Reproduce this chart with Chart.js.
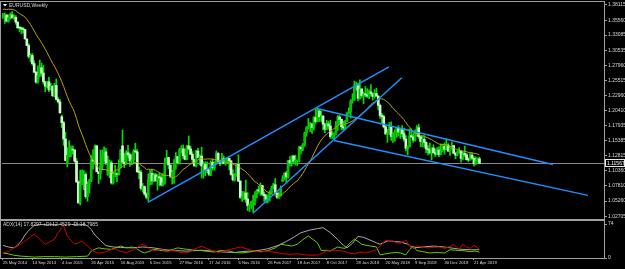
<!DOCTYPE html>
<html>
<head>
<meta charset="utf-8">
<script src="https://cdn.jsdelivr.net/npm/chart.js@4.4.1/dist/chart.umd.min.js"></script>
<style>
  html, body { margin: 0; padding: 0; background: #000; }
  #wrap { position: relative; width: 625px; height: 269px; background: #000; overflow: hidden; }
  #main { position: absolute; left: 0; top: 0; }
  #sub { position: absolute; left: 0; top: 221px; }
</style>
</head>
<body>
<div id="wrap">
  <canvas id="main" width="625" height="221"></canvas>
  <canvas id="sub" width="625" height="48"></canvas>
</div>
<script>
// EURUSD weekly bars, week of 25 May 2014 .. week of 12 May 2019
var opens = [
  1.3630,1.3635,1.3642,1.3543,1.3603,1.3645,1.3595,1.3605,1.3525,1.3430,
  1.3425,1.3410,1.3400,1.3240,1.3132,1.2950,1.2965,1.2830,1.2685,1.2520,
  1.2630,1.2760,1.2670,1.2525,1.2450,1.2525,1.2390,1.2450,1.2290,1.2465,
  1.2230,1.2190,1.1940,1.1840,1.1565,1.1160,1.1290,1.1315,1.1390,1.1380,
  1.1195,1.0845,1.0495,1.0820,1.0890,1.0970,1.0600,1.0810,1.0870,1.1200,
  1.1195,1.1450,1.1015,1.0985,1.1110,1.1265,1.1350,1.0970,1.1110,1.1165,
  1.0830,1.0980,1.0985,1.0970,1.1105,1.1450,1.1180,1.1150,1.1335,1.1300,
  1.1200,1.1215,1.1360,1.1350,1.1015,1.1005,1.0740,1.0770,1.0645,1.0590,
  1.0885,1.0990,1.0865,1.0965,1.0865,1.0930,1.0915,1.0795,1.0830,1.1160,
  1.1255,1.1130,1.0935,1.1005,1.1150,1.1270,1.1165,1.1390,1.1400,1.1285,
  1.1225,1.1450,1.1400,1.1310,1.1225,1.1115,1.1365,1.1255,1.1280,1.1115,
  1.1140,1.1050,1.1045,1.0975,1.1175,1.1085,1.1160,1.1325,1.1195,1.1155,
  1.1235,1.1155,1.1225,1.1240,1.1200,1.0970,1.0885,1.0985,1.1140,1.0860,
  1.0585,1.0590,1.0660,1.0560,1.0450,1.0455,1.0520,1.0530,1.0645,1.0700,
  1.0695,1.0785,1.0640,1.0615,1.0560,1.0625,1.0670,1.0740,1.0800,1.0655,
  1.0590,1.0615,1.0860,1.0895,1.0995,1.0930,1.1205,1.1165,1.1280,1.1195,
  1.1195,1.1195,1.1425,1.1400,1.1470,1.1665,1.1755,1.1775,1.1820,1.1760,
  1.1925,1.1860,1.2035,1.1940,1.1950,1.1815,1.1730,1.1820,1.1785,1.1605,
  1.1610,1.1665,1.1795,1.1935,1.1895,1.1770,1.1750,1.1865,1.2005,1.2030,
  1.2200,1.2220,1.2425,1.2460,1.2250,1.2405,1.2295,1.2315,1.2305,1.2285,
  1.2355,1.2325,1.2280,1.2330,1.2285,1.2130,1.1960,1.1940,1.1770,1.1650,
  1.1660,1.1770,1.1610,1.1655,1.1685,1.1745,1.1685,1.1720,1.1655,1.1565,
  1.1410,1.1440,1.1620,1.1600,1.1550,1.1625,1.1755,1.1605,1.1525,1.1560,
  1.1510,1.1400,1.1385,1.1335,1.1415,1.1335,1.1315,1.1380,1.1305,1.1370,
  1.1440,1.1395,1.1465,1.1365,1.1410,1.1455,1.1325,1.1295,1.1335,1.1365,
  1.1240,1.1325,1.1300,1.1220,1.1215,1.1295,1.1245,1.1150,1.1200,1.1235
];
var highs = [
  1.3670,1.3677,1.3651,1.3647,1.3677,1.3700,1.3648,1.3634,1.3530,1.3445,
  1.3444,1.3434,1.3405,1.3245,1.3160,1.2995,1.3000,1.2875,1.2700,1.2790,
  1.2887,1.2840,1.2800,1.2530,1.2520,1.2600,1.2500,1.2460,1.2500,1.2570,
  1.2260,1.2225,1.1970,1.1860,1.1680,1.1420,1.1535,1.1450,1.1450,1.1390,
  1.1240,1.0870,1.1043,1.1050,1.1035,1.1000,1.0850,1.0890,1.1290,1.1390,
  1.1467,1.1460,1.1020,1.1380,1.1385,1.1436,1.1410,1.1280,1.1215,1.1200,
  1.1010,1.1128,1.1000,1.1215,1.1390,1.1714,1.1330,1.1370,1.1460,1.1330,
  1.1315,1.1390,1.1495,1.1395,1.1095,1.1040,1.0820,1.0780,1.0665,1.0980,
  1.1040,1.1060,1.0990,1.0990,1.0970,1.0990,1.0970,1.0985,1.1245,1.1376,
  1.1260,1.1135,1.1040,1.1220,1.1340,1.1275,1.1410,1.1455,1.1465,1.1400,
  1.1460,1.1616,1.1445,1.1355,1.1230,1.1375,1.1415,1.1300,1.1427,1.1185,
  1.1185,1.1185,1.1060,1.1200,1.1235,1.1185,1.1366,1.1340,1.1210,1.1325,
  1.1285,1.1250,1.1260,1.1245,1.1205,1.1055,1.0990,1.1145,1.1300,1.0870,
  1.0690,1.0685,1.0875,1.0670,1.0480,1.0525,1.0620,1.0685,1.0720,1.0775,
  1.0830,1.0790,1.0680,1.0640,1.0630,1.0700,1.0775,1.0825,1.0905,1.0680,
  1.0680,1.0780,1.0950,1.1000,1.1025,1.1210,1.1270,1.1285,1.1295,1.1295,
  1.1215,1.1445,1.1450,1.1490,1.1680,1.1775,1.1910,1.1845,1.1825,1.1940,
  1.2070,1.2092,1.2060,1.2035,1.1960,1.1830,1.1880,1.1860,1.1880,1.1690,
  1.1670,1.1860,1.1960,1.1960,1.1905,1.1865,1.1880,1.2010,1.2090,1.2225,
  1.2325,1.2537,1.2520,1.2505,1.2556,1.2410,1.2355,1.2445,1.2410,1.2390,
  1.2476,1.2340,1.2395,1.2415,1.2290,1.2150,1.1995,1.1965,1.1790,1.1725,
  1.1840,1.1852,1.1670,1.1720,1.1750,1.1790,1.1745,1.1790,1.1750,1.1625,
  1.1450,1.1735,1.1735,1.1670,1.1720,1.1790,1.1815,1.1610,1.1610,1.1620,
  1.1520,1.1455,1.1500,1.1420,1.1470,1.1400,1.1420,1.1440,1.1485,1.1470,
  1.1500,1.1570,1.1490,1.1420,1.1515,1.1460,1.1345,1.1370,1.1420,1.1370,
  1.1345,1.1448,1.1325,1.1255,1.1325,1.1325,1.1265,1.1265,1.1250,1.1265
];
var lows = [
  1.3585,1.3503,1.3525,1.3524,1.3575,1.3590,1.3572,1.3490,1.3420,1.3367,
  1.3333,1.3340,1.3235,1.3130,1.2920,1.2860,1.2800,1.2680,1.2500,1.2500,
  1.2610,1.2615,1.2485,1.2358,1.2420,1.2360,1.2385,1.2280,1.2270,1.2220,
  1.2165,1.1995,1.1755,1.1460,1.1200,1.1098,1.1260,1.1270,1.1310,1.1175,
  1.0840,1.0490,1.0462,1.0800,1.0715,1.0570,1.0520,1.0660,1.0850,1.1060,
  1.1140,1.1050,1.0819,1.0890,1.1050,1.1190,1.1130,1.0955,1.0915,1.0810,
  1.0808,1.0930,1.0850,1.0960,1.1080,1.1160,1.1085,1.1145,1.1255,1.1105,
  1.1140,1.1165,1.1330,1.1010,1.0895,1.0710,1.0675,1.0620,1.0560,1.0524,
  1.0795,1.0805,1.0850,1.0855,1.0710,1.0780,1.0780,1.0775,1.0810,1.1150,
  1.1065,1.0915,1.0810,1.0822,1.1060,1.1145,1.1145,1.1330,1.1235,1.1215,
  1.1215,1.1380,1.1305,1.1170,1.1110,1.1100,1.1250,1.1130,1.0912,1.0910,
  1.0950,1.1000,1.0950,1.0950,1.1045,1.1045,1.1145,1.1185,1.1120,1.1150,
  1.1150,1.1125,1.1160,1.1050,1.0960,1.0860,1.0860,1.0940,1.0850,1.0570,
  1.0518,1.0550,1.0505,1.0366,1.0350,1.0400,1.0340,1.0455,1.0575,1.0660,
  1.0620,1.0620,1.0520,1.0495,1.0495,1.0525,1.0640,1.0730,1.0650,1.0570,
  1.0570,1.0605,1.0850,1.0875,1.0840,1.0910,1.1110,1.1110,1.1170,1.1130,
  1.1120,1.1180,1.1315,1.1370,1.1440,1.1610,1.1730,1.1690,1.1660,1.1720,
  1.1825,1.1855,1.1860,1.1860,1.1720,1.1670,1.1725,1.1730,1.1575,1.1575,
  1.1554,1.1640,1.1710,1.1810,1.1720,1.1715,1.1720,1.1855,1.1980,1.1915,
  1.2165,1.2215,1.2385,1.2205,1.2235,1.2260,1.2155,1.2275,1.2260,1.2240,
  1.2285,1.2215,1.2250,1.2280,1.2055,1.1910,1.1825,1.1750,1.1645,1.1510,
  1.1640,1.1540,1.1510,1.1530,1.1590,1.1615,1.1575,1.1600,1.1530,1.1365,
  1.1301,1.1430,1.1590,1.1510,1.1530,1.1615,1.1575,1.1435,1.1435,1.1430,
  1.1335,1.1300,1.1315,1.1216,1.1330,1.1270,1.1305,1.1270,1.1300,1.1355,
  1.1310,1.1385,1.1355,1.1290,1.1395,1.1320,1.1234,1.1285,1.1330,1.1176,
  1.1220,1.1270,1.1210,1.1185,1.1210,1.1225,1.1110,1.1135,1.1175,1.1150
];
var closes = [
  1.3635,1.3642,1.3543,1.3603,1.3645,1.3595,1.3605,1.3525,1.3430,1.3425,
  1.3410,1.3400,1.3245,1.3132,1.2950,1.2965,1.2830,1.2685,1.2520,1.2630,
  1.2760,1.2670,1.2525,1.2450,1.2525,1.2390,1.2450,1.2290,1.2465,1.2230,
  1.2190,1.2005,1.1840,1.1565,1.1205,1.1290,1.1315,1.1390,1.1380,1.1195,
  1.0845,1.0495,1.0820,1.0890,1.0970,1.0600,1.0810,1.0870,1.1200,1.1195,
  1.1450,1.1015,1.0985,1.1110,1.1265,1.1350,1.1165,1.1110,1.1165,1.0830,
  1.0980,1.0985,1.0970,1.1105,1.1385,1.1180,1.1150,1.1335,1.1300,1.1200,
  1.1215,1.1360,1.1350,1.1015,1.1005,1.0740,1.0770,1.0645,1.0590,1.0885,
  1.0990,1.0865,1.0965,1.0865,1.0930,1.0915,1.0795,1.0830,1.1160,1.1255,
  1.1130,1.0935,1.1005,1.1150,1.1270,1.1165,1.1390,1.1400,1.1285,1.1225,
  1.1450,1.1400,1.1310,1.1225,1.1115,1.1365,1.1255,1.1280,1.1115,1.1140,
  1.1050,1.1045,1.0975,1.1175,1.1085,1.1160,1.1325,1.1195,1.1155,1.1235,
  1.1155,1.1225,1.1240,1.1200,1.0970,1.0885,1.0985,1.1140,1.0860,1.0585,
  1.0590,1.0660,1.0560,1.0450,1.0455,1.0520,1.0530,1.0645,1.0700,1.0695,
  1.0785,1.0640,1.0615,1.0560,1.0625,1.0670,1.0740,1.0800,1.0655,1.0590,
  1.0615,1.0725,1.0895,1.0995,1.0930,1.1205,1.1165,1.1280,1.1195,1.1195,
  1.1195,1.1425,1.1400,1.1470,1.1665,1.1755,1.1775,1.1820,1.1760,1.1925,
  1.1860,1.2035,1.1940,1.1950,1.1815,1.1730,1.1820,1.1785,1.1605,1.1610,
  1.1665,1.1795,1.1935,1.1895,1.1770,1.1750,1.1865,1.2005,1.2030,1.2200,
  1.2220,1.2425,1.2460,1.2250,1.2405,1.2295,1.2315,1.2305,1.2285,1.2355,
  1.2325,1.2280,1.2330,1.2285,1.2130,1.1960,1.1940,1.1770,1.1650,1.1660,
  1.1770,1.1610,1.1655,1.1685,1.1745,1.1685,1.1720,1.1655,1.1565,1.1410,
  1.1440,1.1620,1.1600,1.1550,1.1625,1.1755,1.1605,1.1525,1.1560,1.1510,
  1.1400,1.1385,1.1335,1.1415,1.1335,1.1315,1.1380,1.1305,1.1370,1.1440,
  1.1395,1.1465,1.1365,1.1410,1.1455,1.1325,1.1295,1.1335,1.1365,1.1240,
  1.1325,1.1300,1.1220,1.1215,1.1295,1.1245,1.1150,1.1200,1.1235,1.11567
];
// closes of the weeks before the first visible bar (moving average warm-up)
var earlierCloses = [
  1.3590,1.3540,1.3690,1.3485,1.3630,1.3690,1.3740,1.3800,1.3910,1.3910,
  1.3780,1.3750,1.3700,1.3885,1.3810,1.3830,1.3870,1.3755,1.3695,1.3630
];
var MA_PERIOD = 20;

// trend lines: bar index and price at each end
var trendStartBars = [78.8, 135.9, 171.2, 179.9];
var trendStartPrices = [1.0504, 1.0321, 1.2074, 1.1540];
var trendEndBars = [209.8, 216.8, 298.9, 318.0];
var trendEndPrices = [1.2776, 1.2592, 1.1139, 1.0621];

var priceTickLabels = ["1.38115", "1.35560", "1.33085", "1.30535", "1.27960", "1.25515", "1.22960",
  "1.20410", "1.17935", "1.15385", "1.12815", "1.10360", "1.07810", "1.05260", "1.02705"];
var lastPriceLabel = "1.11567";

var dateTickBars = [0, 16, 32, 48, 64, 80, 96, 112, 128, 144, 160, 176, 192, 208, 224, 240, 256];
var dateLabels = ["25 May 2014", "14 Sep 2014", "4 Jan 2015", "26 Apr 2015", "16 Aug 2015", "6 Dec 2015",
  "27 Mar 2016", "17 Jul 2016", "6 Nov 2016", "26 Feb 2017", "18 Jun 2017", "8 Oct 2017",
  "28 Jan 2018", "20 May 2018", "9 Sep 2018", "30 Dec 2018", "21 Apr 2019"];

// ADX(14) panel
var adxBars = [0,3,6,8,10,12,14,17,20,24,28,32,36,40,44,46,48,50,53,56,60,64,70,76,82,88,94,100,108,114,
  120,126,130,134,138,144,150,154,158,162,167,171,174,178,182,185,187,190,193,196,199,203,205,209,213,
  216,220,223,228,234,240,245,249,254,259];
var adxValues = [27.5,24,22,28,37,50,60,71,73,72,73,74,74,72,73,70,62,50,38,27,24,23,22,24,22,18,16,15,17,15,
  13,12,14,15,16,20,28,36,45,55,61,64,66,55,40,28,22,32,47,45,40,33,30,37,36,
  35,30,22,24,26,24,21,19,18,17.8];
var minusDiBars = [0,3,6,9,12,15,17,19,21,23,25,28,30,32,33,35,37,39,41,43,45,46,49,52,55,58,61,64,67,70,
  73,75,78,80,83,86,89,92,95,98,101,104,108,111,114,117,120,123,126,129,131,134,137,140,144,148,152,156,
  160,164,168,172,176,180,185,188,191,194,197,200,203,206,208,210,212,214,216,219,222,225,228,231,234,
  237,240,243,245,247,248,250,252,254,256,258,259];
var minusDiValues = [11,14,22,28,37,46,52,45,37,30,34,41,55,66,70,48,38,30,33,37,30,26,15,11,12,17,20,14,12,16,
  22,30,27,18,16,19,13,17,14,11,12,19,26,20,16,12,15,18,21,24,22,18,15,13,15,12,9,8,
  9,7,6,7,15,17,15,11,9,13,11,14,18,30,39,36,37,33,32,39,21,26,24,22,23,
  24,21,25,30,22,19,30,24,21,28,22,18.8];
var plusDiBars = [0,3,6,10,14,17,22,28,34,40,46,48,50,52,55,59,62,64,67,70,72,75,77,80,82,85,89,92,95,98,
  100,104,108,112,115,118,122,126,130,134,137,141,144,148,151,154,157,160,163,166,168,171,173,176,178,
  180,182,184,186,188,191,193,195,198,200,203,205,208,211,214,216,219,221,223,225,228,232,236,240,243,
  246,250,254,257,259];
var plusDiValues = [11,9,6,4,3,2,3,3,2,3,4,15,19,22,20,19,23,26,22,24,22,14,11,15,19,17,15,18,22,20,
  19,17,16,14,13,16,16,12,11,13,15,14,16,22,30,28,26,30,40,48,42,33,16,17,15,
  20,24,22,21,30,41,36,30,27,26,24,7,9,11,12,11,7,18,26,16,14,11,12,11,18,
  17,16,14,15,12.5];
var adxText = "ADX(14) 17.8297 +DI:12.4529 -DI:18.7985";

var X_MIN = -0.5, X_MAX = 326.7;
var Y_MIN = 1.02419, Y_MAX = 1.38449;
var FRAME = "#a0a0a0";
var TEXT = "#d8d8d8";
var tinyFont = { family: "Liberation Sans", size: 5, lineHeight: 0.8 };
var dateFont = { family: "Liberation Sans", size: 4.2, lineHeight: 0.8 };

function xy(xs, ys) {
  return xs.map(function (x, i) { return { x: x, y: ys[i] }; });
}

var allCloses = earlierCloses.concat(closes);
var maPoints = closes.map(function (c, i) {
  var end = i + earlierCloses.length, sum = 0;
  for (var k = end - MA_PERIOD + 1; k <= end; k++) sum += allCloses[k];
  return { x: i, y: sum / MA_PERIOD };
});

var wickData = lows.map(function (l, i) { return { x: i, y: [l, highs[i]] }; });
var bodyData = opens.map(function (o, i) { return { x: i, y: [o, closes[i]] }; });
var bodyColors = opens.map(function (o, i) { return closes[i] >= o ? "#00c400" : "#c8ffc8"; });

var trendSets = trendStartBars.map(function (b, i) {
  return {
    type: "line",
    data: [{ x: b, y: trendStartPrices[i] }, { x: trendEndBars[i], y: trendEndPrices[i] }],
    borderColor: "#1e90ff",
    borderWidth: 1.5,
    pointRadius: 0
  };
});

var mainDecor = {
  id: "mainDecor",
  beforeDatasetsDraw: function (chart) {
    var ctx = chart.ctx, a = chart.chartArea;
    var y = Math.round(chart.scales.y.getPixelForValue(closes[closes.length - 1])) + 0.5;
    ctx.save();
    ctx.strokeStyle = "#8a8a8a";
    ctx.lineWidth = 1;
    ctx.beginPath();
    ctx.moveTo(a.left, y);
    ctx.lineTo(a.right, y);
    ctx.stroke();
    ctx.restore();
  },
  afterDraw: function (chart) {
    var ctx = chart.ctx;
    ctx.save();
    ctx.fillStyle = FRAME;
    ctx.fillRect(0, 1, 605, 1);
    ctx.fillRect(0, 1, 1, 220);
    ctx.fillRect(604, 1, 1, 220);
    ctx.fillRect(0, 219, 605, 2);
    // last price tag
    var y = Math.round(chart.scales.y.getPixelForValue(closes[closes.length - 1]));
    ctx.fillStyle = "#000";
    ctx.fillRect(605, y - 3, 19, 7);
    ctx.strokeStyle = "#e8e8e8";
    ctx.strokeRect(605.5, y - 3.5, 19, 7);
    ctx.fillStyle = "#ffffff";
    ctx.font = "5px 'Liberation Sans'";
    ctx.textBaseline = "middle";
    ctx.fillText(lastPriceLabel, 607, y + 0.5);
    // title
    ctx.beginPath();
    ctx.moveTo(3, 4); ctx.lineTo(7, 4); ctx.lineTo(5, 6.5); ctx.closePath();
    ctx.fill();
    ctx.fillStyle = TEXT;
    ctx.fillText("EURUSD,Weekly", 9, 5.5);
    ctx.restore();
  }
};

new Chart(document.getElementById("main"), {
  type: "bar",
  data: {
    datasets: trendSets.concat([
      { type: "line", data: maPoints, borderColor: "#b8a600", borderWidth: 1, pointRadius: 0 },
      { data: bodyData, backgroundColor: bodyColors, barThickness: 2, minBarLength: 1, grouped: false },
      { data: wickData, backgroundColor: "#00e000", barThickness: 1, grouped: false }
    ])
  },
  options: {
    responsive: false,
    animation: false,
    events: [],
    layout: { padding: { left: 2, top: 3, bottom: 2, right: 0 } },
    plugins: { legend: { display: false }, tooltip: { enabled: false } },
    scales: {
      x: { type: "linear", min: X_MIN, max: X_MAX, offset: false, display: false },
      y: {
        position: "right",
        min: Y_MIN,
        max: Y_MAX,
        afterBuildTicks: function (scale) {
          scale.ticks = priceTickLabels.map(function (s) { return { value: parseFloat(s) }; });
        },
        afterFit: function (scale) { scale.width = 21; },
        grid: { drawOnChartArea: false, tickLength: 3, color: FRAME },
        border: { display: false },
        ticks: {
          padding: 1,
          color: TEXT,
          font: tinyFont,
          callback: function (v, i) { return priceTickLabels[i]; }
        }
      }
    }
  },
  plugins: [mainDecor]
});

var subDecor = {
  id: "subDecor",
  afterDraw: function (chart) {
    var ctx = chart.ctx;
    ctx.save();
    ctx.fillStyle = FRAME;
    ctx.fillRect(0, 0, 1, 38);
    ctx.fillRect(604, 0, 1, 38);
    ctx.fillRect(0, 37, 605, 1);
    ctx.fillStyle = TEXT;
    ctx.font = "5px 'Liberation Sans'";
    ctx.textBaseline = "middle";
    ctx.fillText(adxText, 3, 4);
    ctx.restore();
  }
};

new Chart(document.getElementById("sub"), {
  type: "line",
  data: {
    datasets: [
      { data: xy(minusDiBars, minusDiValues), borderColor: "#d40000", borderWidth: 1, pointRadius: 0 },
      { data: xy(plusDiBars, plusDiValues), borderColor: "#66cc00", borderWidth: 1, pointRadius: 0 },
      { data: xy(adxBars, adxValues), borderColor: "#a8a8a8", borderWidth: 1, pointRadius: 0 }
    ]
  },
  options: {
    responsive: false,
    animation: false,
    events: [],
    layout: { padding: { left: 2, top: 2, bottom: 0, right: 0 } },
    plugins: { legend: { display: false }, tooltip: { enabled: false } },
    scales: {
      x: {
        type: "linear",
        min: X_MIN,
        max: X_MAX,
        offset: false,
        afterBuildTicks: function (scale) {
          scale.ticks = dateTickBars.map(function (b) { return { value: b }; });
        },
        afterFit: function (scale) { scale.height = 11; },
        grid: { drawOnChartArea: false, tickLength: 2, color: FRAME },
        border: { display: false },
        ticks: {
          autoSkip: false,
          maxRotation: 0,
          align: "start",
          padding: 1,
          color: TEXT,
          font: dateFont,
          callback: function (v, i) { return dateLabels[i]; }
        }
      },
      y: {
        position: "right",
        min: 0,
        max: 74,
        afterBuildTicks: function (scale) {
          scale.ticks = [{ value: 74 }, { value: 0 }];
        },
        afterFit: function (scale) { scale.width = 21; },
        grid: { drawOnChartArea: false, tickLength: 3, color: FRAME },
        border: { display: false },
        ticks: { padding: 1, color: TEXT, font: tinyFont }
      }
    }
  },
  plugins: [subDecor]
});
</script>
</body>
</html>
